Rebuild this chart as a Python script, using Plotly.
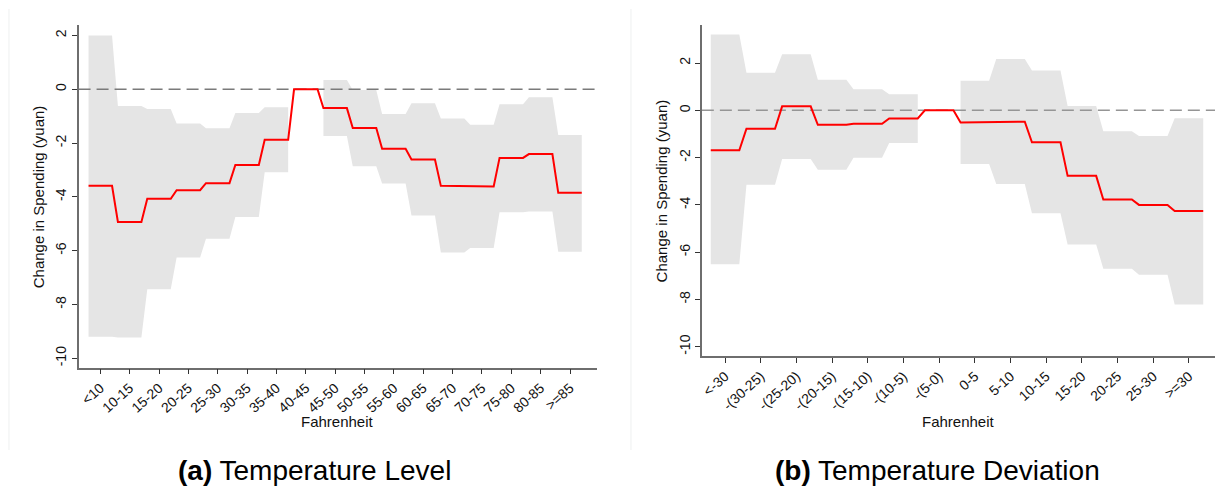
import plotly.graph_objects as go

# ---------------- data ----------------
cats_level = ["<10", "10-15", "15-20", "20-25", "25-30", "30-35", "35-40", "40-45",
              "45-50", "50-55", "55-60", "60-65", "65-70", "70-75", "75-80", "80-85", ">=85"]
coef_level = [-3.59, -4.93, -4.07, -3.75, -3.49, -2.81, -1.88, 0.0,
              -0.70, -1.44, -2.21, -2.61, -3.59, -3.61, -2.55, -2.41, -3.85]
upper_level = [2.0, -0.62, -0.73, -1.27, -1.45, -0.88, -0.67, None,
               0.35, -0.03, -0.92, -0.52, -1.09, -1.32, -0.56, -0.30, -1.70]
lower_level = [-9.20, -9.23, -7.43, -6.25, -5.56, -4.75, -3.08, None,
               -1.74, -2.86, -3.50, -4.69, -6.07, -5.90, -4.57, -4.54, -6.04]

cats_dev = ["<-30", "-(30-25)", "-(25-20)", "-(20-15)", "-(15-10)", "-(10-5)", "-(5-0)",
            "0-5", "5-10", "10-15", "15-20", "20-25", "25-30", ">=30"]
coef_dev = [-1.69, -0.78, 0.17, -0.61, -0.57, -0.34, 0.0,
            -0.51, -0.48, -1.35, -2.77, -3.77, -4.00, -4.26]
upper_dev = [3.21, 1.59, 2.37, 1.29, 0.89, 0.68, None,
             1.25, 2.17, 1.69, 0.18, -0.88, -1.09, -0.33]
lower_dev = [-6.51, -3.15, -2.06, -2.51, -2.01, -1.38, None,
             -2.27, -3.12, -4.35, -5.67, -6.70, -6.95, -8.21]

y_ticks = [-10, -8, -6, -4, -2, 0, 2]

# ---------------- style ----------------
HALF = 0.4
FONT = "Liberation Sans, Arial, Helvetica, sans-serif"
BAND = "#e5e5e5"
RED = "#ff0000"

W, H = 1215, 492
# plot areas in pixels (left, right, top, bottom)
P1 = dict(l=76.7, r=596.0, t=25.0, b=367.7)
P2 = dict(l=701.0, r=1215.0, t=25.0, b=356.0)
X1_RANGE = [-0.74, 16.92]
Y1_RANGE = [-10.35, 2.39]
X2_RANGE = [-0.65, 13.73]
Y2_RANGE = [-10.39, 3.61]


def step_xy(vals):
    xs, ys = [], []
    for i, v in enumerate(vals):
        xs += [i - HALF, i + HALF]
        ys += [v, v]
    return xs, ys


def band_polys(up, lo):
    polys = []
    run = []
    for i, (u, l) in enumerate(zip(up, lo)):
        if u is None or l is None:
            if run:
                polys.append(run)
            run = []
        else:
            run.append(i)
    if run:
        polys.append(run)
    out = []
    for r in polys:
        xs, ys = [], []
        for i in r:
            xs += [i - HALF, i + HALF]
            ys += [up[i], up[i]]
        for i in reversed(r):
            xs += [i + HALF, i - HALF]
            ys += [lo[i], lo[i]]
        out.append((xs, ys))
    return out


fig = go.Figure()


def add_panel(cats, coef, up, lo, xa, ya, xr, dash_color):
    for xs, ys in band_polys(up, lo):
        fig.add_trace(go.Scatter(x=xs, y=ys, fill="toself", fillcolor=BAND,
                                 line=dict(width=0, color=BAND), mode="lines",
                                 hoverinfo="skip", showlegend=False,
                                 xaxis=xa, yaxis=ya))
    fig.add_trace(go.Scatter(x=[xr[0], xr[1]], y=[0, 0], mode="lines",
                             line=dict(color=dash_color, width=1.5, dash="12px,6px"),
                             hoverinfo="skip", showlegend=False,
                             xaxis=xa, yaxis=ya))
    xs, ys = step_xy(coef)
    fig.add_trace(go.Scatter(x=xs, y=ys, mode="lines",
                             line=dict(color=RED, width=2),
                             showlegend=False, xaxis=xa, yaxis=ya))


add_panel(cats_level, coef_level, upper_level, lower_level, "x", "y", X1_RANGE, "#7a7a7a")
add_panel(cats_dev, coef_dev, upper_dev, lower_dev, "x2", "y2", X2_RANGE, "#959595")


def xdom(p):
    return [p["l"] / W, p["r"] / W]


def ydom(p):
    return [(H - p["b"]) / H, (H - p["t"]) / H]


axis_common = dict(showline=True, linecolor="#6e6e6e", linewidth=1.5,
                   ticks="outside", ticklen=5, tickwidth=1, tickcolor="#333333",
                   showgrid=False, zeroline=False,
                   tickfont=dict(family=FONT, size=14, color="#111111"))

fig.update_layout(
    width=W, height=H,
    margin=dict(l=0, r=0, t=0, b=0),
    paper_bgcolor="white", plot_bgcolor="white",
    font=dict(family=FONT, size=14, color="#111111"),
    xaxis=dict(domain=xdom(P1), range=X1_RANGE, anchor="y",
               tickmode="array", tickvals=list(range(len(cats_level))), ticktext=cats_level,
               tickangle=-42, **axis_common),
    yaxis=dict(domain=ydom(P1), range=Y1_RANGE, anchor="x",
               tickmode="array", tickvals=y_ticks, ticktext=[str(t) for t in y_ticks],
               tickangle=-90, **axis_common),
    xaxis2=dict(domain=xdom(P2), range=X2_RANGE, anchor="y2",
                tickmode="array", tickvals=list(range(len(cats_dev))), ticktext=cats_dev,
                tickangle=-42, **axis_common),
    yaxis2=dict(domain=ydom(P2), range=Y2_RANGE, anchor="x2",
                tickmode="array", tickvals=y_ticks, ticktext=[str(t) for t in y_ticks],
                tickangle=-90, **axis_common),
)

ann = []
# axis titles
ann.append(dict(text="Fahrenheit", x=0.5, xref="x domain", y=(H - 421.7) / H, yref="paper",
                showarrow=False, font=dict(size=15), xanchor="center", yanchor="middle"))
ann.append(dict(text="Fahrenheit", x=0.5, xref="x2 domain", y=(H - 421.7) / H, yref="paper",
                showarrow=False, font=dict(size=15), xanchor="center", yanchor="middle"))
ann.append(dict(text="Change in Spending (yuan)", x=36 / W, xref="paper", y=0.5, yref="y domain",
                textangle=-90, showarrow=False, font=dict(size=15),
                xanchor="center", yanchor="middle"))
ann.append(dict(text="Change in Spending (yuan)", x=661 / W, xref="paper", y=0.5, yref="y2 domain",
                textangle=-90, showarrow=False, font=dict(size=15),
                xanchor="center", yanchor="middle"))
# subfigure captions
ann.append(dict(text="<b>(a)</b> Temperature Level", x=313 / W, xref="paper", y=(H - 470) / H,
                yref="paper", showarrow=False, font=dict(size=28, color="#000000"),
                xanchor="center", yanchor="middle"))
ann.append(dict(text="<b>(b)</b> Temperature Deviation", x=937 / W, xref="paper", y=(H - 470) / H,
                yref="paper", showarrow=False, font=dict(size=28, color="#000000"),
                xanchor="center", yanchor="middle"))
fig.update_layout(annotations=ann)

# faint subfigure borders
for xp in (7, 630):
    fig.add_shape(type="line", xref="paper", yref="paper",
                  x0=xp / W, x1=xp / W, y0=(H - 450) / H, y1=(H - 9) / H,
                  line=dict(color="#eef0f0", width=1), layer="below")

fig.write_html("out.html")
